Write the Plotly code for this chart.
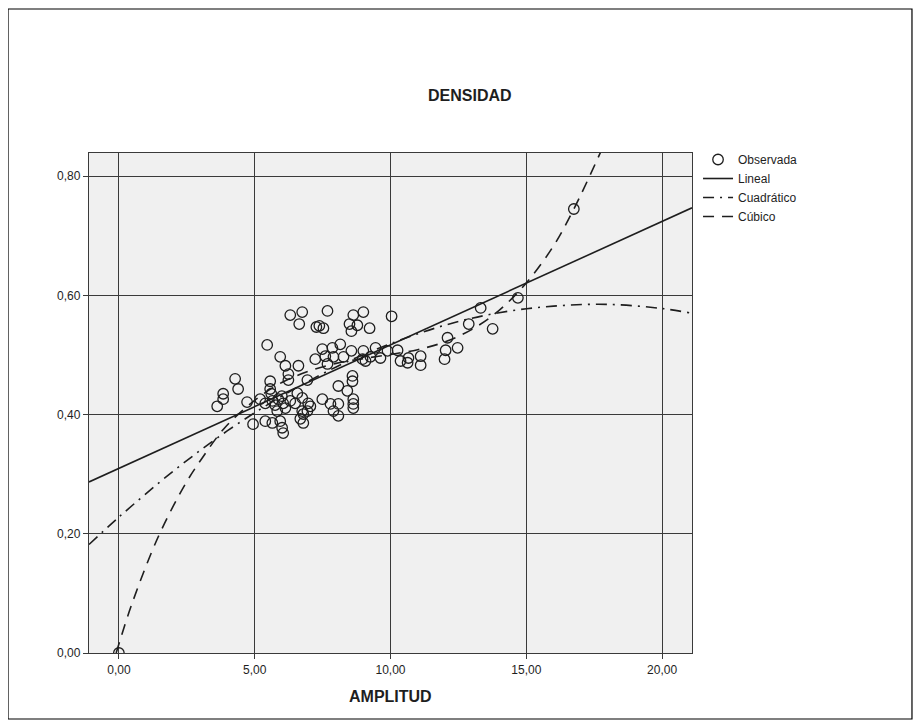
import plotly.graph_objects as go

# Observed points (AMPLITUD, DENSIDAD)
amplitud = [3.62, 3.84, 3.84, 4.28, 4.39, 4.72, 4.94, 5.20, 5.39, 5.39, 5.46, 5.57, 5.57, 5.61, 5.65,
            5.65, 5.83, 5.87, 5.94, 6.01, 6.05, 6.05, 6.13, 5.94, 6.13, 6.24, 6.24, 6.31, 6.31, 6.75,
            6.64, 6.61, 6.57, 6.75, 6.49, 6.75, 6.68, 6.79, 6.79, 6.94, 6.94, 6.97, 7.05, 7.27, 7.38,
            7.53, 7.68, 7.23, 7.49, 7.60, 7.68, 7.86, 7.90, 8.15, 8.27, 7.49, 7.79, 7.90, 8.08, 8.08,
            8.08, 8.41, 8.56, 8.49, 8.63, 8.78, 8.56, 9.00, 9.23, 8.60, 8.60, 8.63, 8.63, 8.63, 8.97,
            9.00, 9.08, 9.26, 9.45, 9.63, 9.89, 10.04, 10.26, 10.37, 10.63, 10.66, 11.11, 11.11, 12.03,
            12.10, 11.99, 12.47, 12.88, 13.32, 13.76, 14.69, 16.75, 0.00, 6.00, 5.75]
densidad = [0.414, 0.426, 0.435, 0.460, 0.443, 0.421, 0.384, 0.426, 0.419, 0.389, 0.517, 0.456, 0.443, 0.435, 0.423,
            0.386, 0.406, 0.426, 0.389, 0.378, 0.369, 0.419, 0.411, 0.497, 0.482, 0.468, 0.458, 0.423, 0.567, 0.572,
            0.552, 0.482, 0.436, 0.428, 0.419, 0.406, 0.393, 0.386, 0.401, 0.406, 0.458, 0.419, 0.414, 0.547, 0.549,
            0.545, 0.574, 0.493, 0.510, 0.498, 0.485, 0.512, 0.497, 0.518, 0.497, 0.426, 0.418, 0.406, 0.418, 0.398,
            0.448, 0.440, 0.507, 0.552, 0.567, 0.550, 0.540, 0.572, 0.545, 0.465, 0.456, 0.426, 0.418, 0.411, 0.493,
            0.507, 0.490, 0.497, 0.512, 0.495, 0.507, 0.565, 0.508, 0.490, 0.487, 0.495, 0.498, 0.483, 0.508,
            0.529, 0.493, 0.512, 0.552, 0.579, 0.544, 0.596, 0.745, 0.000, 0.431, 0.416]

# Fitted curves
lineal_x = [-1.1, 21.1]
lineal_y = [0.287, 0.747]

cuad_x = [-1.1, 0, 2, 4, 6, 8, 10, 12, 14, 16, 18, 20, 21.1]
cuad_y = [0.182, 0.228, 0.305, 0.373, 0.431, 0.480, 0.519, 0.550, 0.571, 0.582, 0.585, 0.578, 0.570]

cub_x = [-0.1, 0.5, 1.45, 2.44, 3.05, 3.9, 5, 6, 7, 8, 9, 10, 11, 12, 13, 14, 15, 16, 16.75, 17.8]
cub_y = [0.0, 0.085, 0.195, 0.283, 0.326, 0.378, 0.424, 0.454, 0.473, 0.486, 0.494, 0.501, 0.509,
         0.522, 0.543, 0.575, 0.621, 0.683, 0.745, 0.847]

x_ticks = [0, 5, 10, 15, 20]
y_ticks = [0.0, 0.2, 0.4, 0.6, 0.8]

FONT = "Liberation Sans, Arial, sans-serif"
INK = "#1e1e1e"

fig = go.Figure()
fig.add_trace(go.Scatter(
    x=amplitud, y=densidad, mode="markers", name="Observada",
    marker=dict(symbol="circle-open", size=10.5, color=INK, line=dict(width=1.3, color=INK)),
))
fig.add_trace(go.Scatter(
    x=lineal_x, y=lineal_y, mode="lines", name="Lineal",
    line=dict(color=INK, width=1.6),
))
fig.add_trace(go.Scatter(
    x=cuad_x, y=cuad_y, mode="lines", name="Cuadrático",
    line=dict(color=INK, width=1.6, dash="11px,6px,2px,6px", shape="spline", smoothing=1.0),
))
fig.add_trace(go.Scatter(
    x=cub_x, y=cub_y, mode="lines", name="Cúbico",
    line=dict(color=INK, width=1.6, dash="11px,8px", shape="spline", smoothing=1.0),
))

axis_common = dict(
    showgrid=True, gridcolor="#3a3a3a", gridwidth=1.3,
    showline=True, linecolor="#3a3a3a", linewidth=1.3, mirror=True,
    ticks="outside", ticklen=5, tickcolor="#3a3a3a", tickwidth=1.2,
    zeroline=False, tickformat=".2f",
    tickfont=dict(family=FONT, size=12, color=INK),
)

fig.update_layout(
    width=921, height=728,
    margin=dict(l=81, r=237, t=145, b=83),
    paper_bgcolor="white", plot_bgcolor="#f0f0f0",
    separators=",.",
    font=dict(family=FONT, color=INK),
    xaxis=dict(range=[-1.1, 21.1], tickvals=x_ticks, **axis_common),
    yaxis=dict(range=[0, 0.839], tickvals=y_ticks, **axis_common),
    showlegend=True,
    legend=dict(
        x=1.010, y=1.016, xanchor="left", yanchor="top",
        font=dict(family=FONT, size=12, color=INK),
        bgcolor="rgba(0,0,0,0)", itemwidth=30, tracegroupgap=0,
    ),
    annotations=[
        dict(text="<b>DENSIDAD</b>", x=0.632, y=1.114, xref="paper", yref="paper",
             showarrow=False, font=dict(family=FONT, size=16, color=INK), xanchor="center", yanchor="middle"),
        dict(text="<b>AMPLITUD</b>", x=0.5, y=-0.087, xref="paper", yref="paper",
             showarrow=False, font=dict(family=FONT, size=16, color=INK), xanchor="center", yanchor="middle"),
    ],
    shapes=[
        dict(type="rect", xref="paper", yref="paper", x0=-0.1343, x1=1.3648, y0=-0.132, y1=1.288,
             line=dict(color="black", width=1.2), fillcolor="rgba(0,0,0,0)", layer="below"),
    ],
)

fig.write_html("out.html")
